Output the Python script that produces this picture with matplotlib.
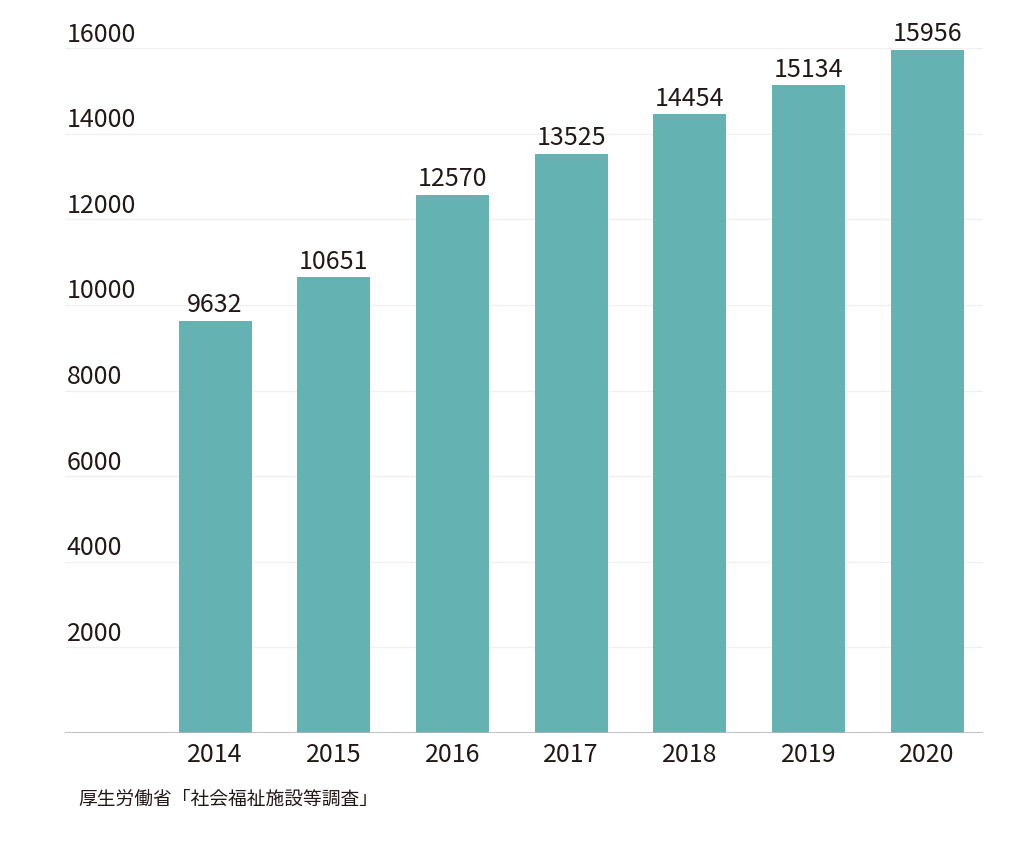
import matplotlib
matplotlib.use("Agg")
import matplotlib.pyplot as plt
import matplotlib.transforms as mtransforms

plt.rcParams['font.family'] = ['Noto Sans CJK JP', 'DejaVu Sans']

# Data
years = ["2014", "2015", "2016", "2017", "2018", "2019", "2020"]
counts = [9632, 10651, 12570, 13525, 14454, 15134, 15956]
y_ticks = [2000, 4000, 6000, 8000, 10000, 12000, 14000, 16000]
source = "厚生労働省「社会福祉施設等調査」"

bar_color = "#65b2b2"
text_color = "#231815"

fig = plt.figure(figsize=(10.24, 8.53), dpi=100)
ax = fig.add_axes([65 / 1024, 1 - 734 / 853, 918 / 1024, 685 / 853])

x = list(range(len(years)))
ax.bar(x, counts, width=0.615, color=bar_color, zorder=2)

ax.set_xlim(-1.264, 6.47)
ax.set_ylim(0, 16000)

# faint horizontal gridlines
for t in y_ticks:
    ax.axhline(t, color="#f0f0f0", lw=1, zorder=1)
ax.axhline(0, color="#b5b5b5", lw=1.2, zorder=3)

# y labels sit just above each gridline, left aligned
trans = mtransforms.blended_transform_factory(ax.transAxes, ax.transData)
for t in y_ticks:
    ax.annotate(str(t), xy=(0.002, t), xycoords=trans, xytext=(0, 1),
                textcoords="offset points", ha="left", va="bottom",
                fontsize=18, color=text_color)

# value labels above bars
for xi, v in zip(x, counts):
    ax.annotate(str(v), xy=(xi, v), xytext=(0, 2.5), textcoords="offset points",
                ha="center", va="bottom", fontsize=18, color=text_color)

# year labels
ax.set_xticks(x)
ax.set_xticklabels(years, fontsize=18, color=text_color)
ax.tick_params(axis="x", length=0, pad=6)
ax.set_yticks([])

for s in ax.spines.values():
    s.set_visible(False)

fig.text(78 / 1024, 1 - 799 / 853, source, fontsize=13.5,
         color=text_color, ha="left", va="center")

fig.savefig("out.png", dpi=100, facecolor="white")
